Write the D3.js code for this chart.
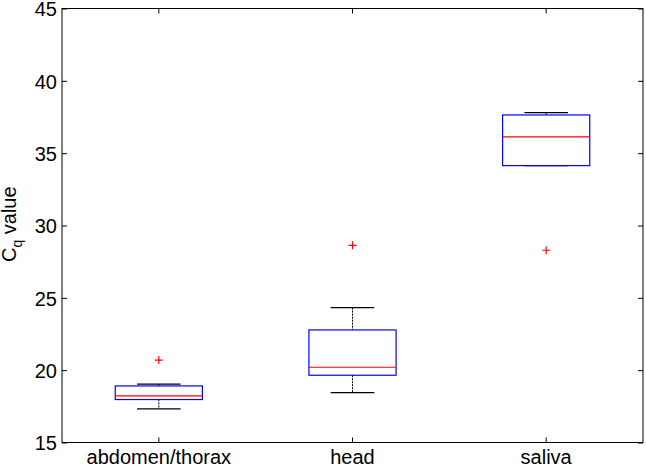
<!DOCTYPE html>
<html><head><meta charset="utf-8">
<script src="https://cdn.jsdelivr.net/npm/d3@7"></script>
<style>body{margin:0;background:#fff}svg{display:block}</style>
</head><body>
<svg id="c" width="646" height="466"></svg>
<script>
const categories = ["abdomen/thorax", "head", "saliva"];
const lowerWhisker = [17.32, 18.45, 34.14];
const q1 = [17.97, 19.65, 34.14];
const median = [18.22, 20.2, 36.12];
const q3 = [18.91, 22.78, 37.64];
const upperWhisker = [19.03, 24.32, 37.8];
const outliers = [[20.7], [28.63], [28.29]];
const yTicks = [15, 20, 25, 30, 35, 40, 45];

const svg = d3.select("#c");
const L = 62, R = 643, T = 8.5, B = 442.5;
const font = "'Liberation Sans', Arial, sans-serif";
const x = d3.scaleBand().domain(categories).range([L, R]).paddingInner(0).paddingOuter(0);
const y = d3.scaleLinear().domain([15, 45]).range([B, T]);
const bw = x.bandwidth() * 0.45;
const cx = c => x(c) + x.bandwidth() / 2;

// axes frame
svg.append("rect").attr("x", L).attr("y", T).attr("width", R - L).attr("height", B - T)
  .attr("fill", "none").attr("stroke", "#000").attr("stroke-width", 1);

// y ticks left & right
const gL = svg.append("g").attr("transform", `translate(${L},0)`)
  .call(d3.axisLeft(y).tickValues(yTicks).tickSize(-5).tickPadding(5));
gL.select(".domain").remove();
gL.selectAll("text").attr("font-family", font).attr("font-size", 20).attr("fill", "#000").attr("dy", "0.36em");
const gR = svg.append("g").attr("transform", `translate(${R},0)`)
  .call(d3.axisRight(y).tickValues(yTicks).tickSize(-5).tickFormat(""));
gR.select(".domain").remove();

// x ticks bottom & top
const gB = svg.append("g").attr("transform", `translate(0,${B})`).call(d3.axisBottom(x).tickSize(-5));
gB.select(".domain").remove();
gB.selectAll("text").attr("font-family", font).attr("font-size", 20).attr("fill", "#000")
  .attr("y", 21).attr("dy", 0);
const gT = svg.append("g").attr("transform", `translate(0,${T})`).call(d3.axisTop(x).tickSize(-5).tickFormat(""));
gT.select(".domain").remove();
svg.selectAll(".tick line").attr("stroke", "#000");

// y label
const yl = svg.append("text").attr("transform", `translate(16,262) rotate(-90)`)
  .attr("text-anchor", "start").attr("font-family", font).attr("font-size", 20).attr("fill", "#000");
yl.append("tspan").text("C");
yl.append("tspan").attr("font-size", 14).attr("dy", 6).text("q");
yl.append("tspan").attr("dy", -6).text(" value");

// boxes
categories.forEach((c, i) => {
  const g = svg.append("g");
  const xc = cx(c);
  g.append("line").attr("x1", xc).attr("x2", xc).attr("y1", y(upperWhisker[i])).attr("y2", y(q3[i]))
    .attr("stroke", "#000").attr("stroke-dasharray", "2,1");
  g.append("line").attr("x1", xc).attr("x2", xc).attr("y1", y(q1[i])).attr("y2", y(lowerWhisker[i]))
    .attr("stroke", "#000").attr("stroke-dasharray", "2,1");
  [upperWhisker[i], lowerWhisker[i]].forEach(v => {
    g.append("line").attr("x1", xc - bw / 4).attr("x2", xc + bw / 4).attr("y1", y(v)).attr("y2", y(v))
      .attr("stroke", "#000").attr("stroke-width", 1.2);
  });
  g.append("rect").attr("x", xc - bw / 2).attr("width", bw).attr("y", y(q3[i])).attr("height", y(q1[i]) - y(q3[i]))
    .attr("fill", "none").attr("stroke", "#0000ff").attr("stroke-width", 1.2);
  g.append("line").attr("x1", xc - bw / 2).attr("x2", xc + bw / 2).attr("y1", y(median[i])).attr("y2", y(median[i]))
    .attr("stroke", "#ff0000").attr("stroke-width", 1.2);
  outliers[i].forEach(v => {
    const py = y(v);
    g.append("path").attr("d", `M${xc - 4},${py}H${xc + 4}M${xc},${py - 4}V${py + 4}`)
      .attr("stroke", "#ff0000").attr("stroke-width", 1.2);
  });
});
</script>
</body></html>
